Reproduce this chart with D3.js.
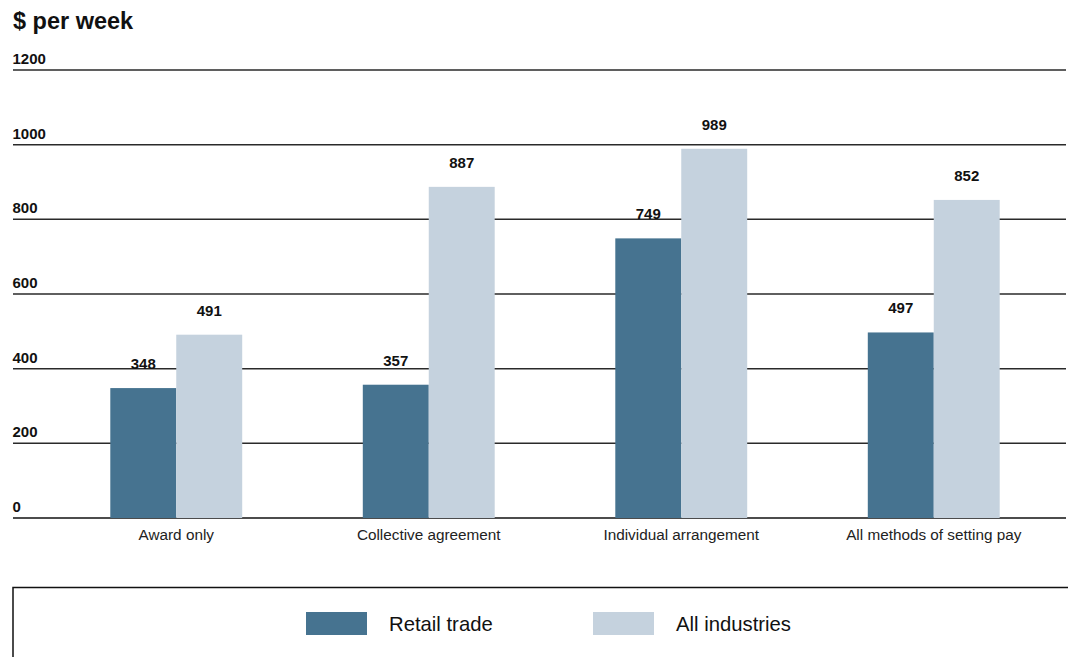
<!DOCTYPE html>
<html>
<head>
<meta charset="utf-8">
<script src="https://cdn.jsdelivr.net/npm/d3@7"></script>
<style>
  body { margin: 0; background: #fff; }
  svg { display: block; font-family: "Liberation Sans", Arial, Helvetica, sans-serif; }
</style>
</head>
<body>
<svg id="chart" width="1068" height="657"></svg>
<script>
// Weekly earnings by method of setting pay
const categories = ["Award only", "Collective agreement", "Individual arrangement", "All methods of setting pay"];
const seriesNames = ["Retail trade", "All industries"];
const retailTrade = [348, 357, 749, 497];
const allIndustries = [491, 887, 989, 852];
const yTicks = [0, 200, 400, 600, 800, 1000, 1200];
const colors = ["#467390", "#c5d2de"];

const svg = d3.select("#chart");
const W = 1068;

const y = d3.scaleLinear().domain([0, 1200]).range([518, 70]);
const x0 = d3.scaleBand().domain(categories).range([50, 1060])
  .paddingInner(0.4776).paddingOuter(0.2388);
const x1 = d3.scaleBand().domain(seriesNames).range([0, x0.bandwidth()]);
const color = d3.scaleOrdinal().domain(seriesNames).range(colors);

const rows = categories.map((c, i) => ({
  category: c,
  values: [
    { series: seriesNames[0], value: retailTrade[i] },
    { series: seriesNames[1], value: allIndustries[i] }
  ]
}));

// Title
svg.append("text")
  .attr("x", 13).attr("y", 28.5)
  .attr("font-size", 23.5).attr("font-weight", "bold").attr("fill", "#111")
  .text("$ per week");

// Horizontal gridlines with labels sitting above each line
const yAxis = svg.append("g");
yTicks.forEach(t => {
  yAxis.append("line")
    .attr("x1", 13).attr("x2", 1066)
    .attr("y1", y(t)).attr("y2", y(t))
    .attr("stroke", t === 0 ? "#111" : "#2a2a2a")
    .attr("stroke-width", 1.5);
  yAxis.append("text")
    .attr("x", 12.5).attr("y", y(t) - 6)
    .attr("font-size", 15).attr("font-weight", "bold").attr("fill", "#111")
    .text(t);
});

// Bars
const groups = svg.append("g").selectAll("g").data(rows).join("g")
  .attr("transform", d => `translate(${x0(d.category)},0)`);

groups.selectAll("rect").data(d => d.values).join("rect")
  .attr("x", d => x1(d.series))
  .attr("y", d => y(d.value))
  .attr("width", x1.bandwidth())
  .attr("height", d => y(0) - y(d.value))
  .attr("fill", d => color(d.series));

// Value labels
groups.selectAll("text.val").data(d => d.values).join("text")
  .attr("class", "val")
  .attr("x", d => x1(d.series) + x1.bandwidth() / 2)
  .attr("y", d => y(d.value) - 19)
  .attr("text-anchor", "middle")
  .attr("font-size", 15).attr("font-weight", "bold").attr("fill", "#111")
  .text(d => d.value);

// Category labels
svg.append("g").selectAll("text").data(categories).join("text")
  .attr("x", d => x0(d) + x0.bandwidth() / 2)
  .attr("y", 540)
  .attr("text-anchor", "middle")
  .attr("font-size", 15.3).attr("fill", "#222")
  .text(d => d);

// Legend box (top and left edges)
svg.append("path")
  .attr("d", `M13,657 V587.5 H${W}`)
  .attr("fill", "none").attr("stroke", "#111").attr("stroke-width", 1.5);

const legendX = [306, 593];
const legend = svg.append("g").selectAll("g").data(seriesNames).join("g")
  .attr("transform", (d, i) => `translate(${legendX[i]},612)`);
legend.append("rect")
  .attr("width", 61).attr("height", 23)
  .attr("fill", d => color(d));
legend.append("text")
  .attr("x", 83).attr("y", 19)
  .attr("font-size", 20.3).attr("fill", "#111")
  .text(d => d);
</script>
</body>
</html>
